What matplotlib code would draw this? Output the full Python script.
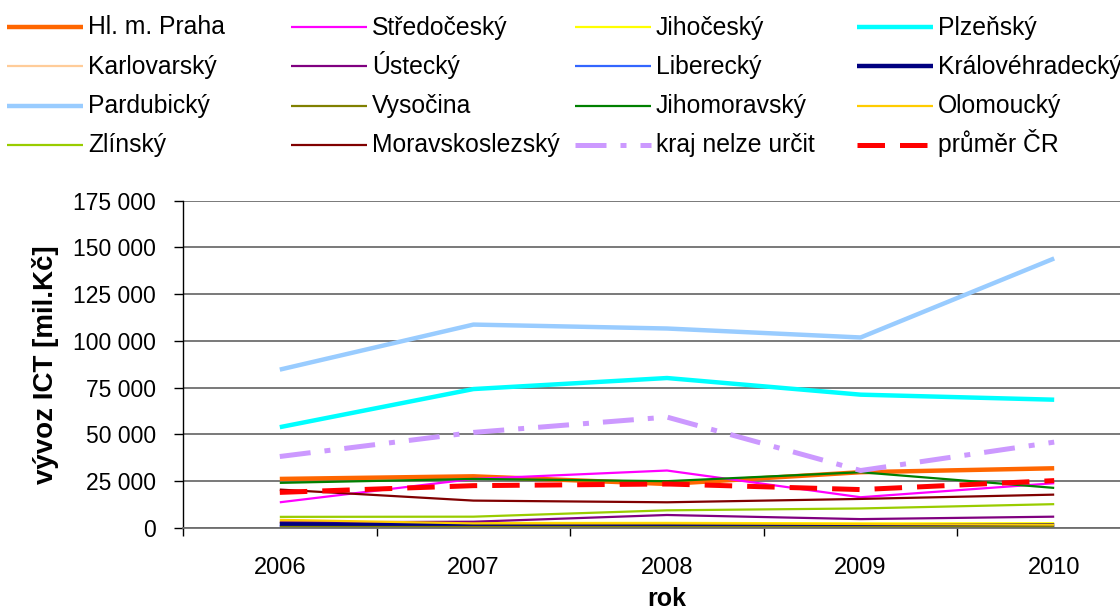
import matplotlib
matplotlib.use("Agg")
import matplotlib.pyplot as plt
from matplotlib.lines import Line2D
from matplotlib.ticker import FuncFormatter, FixedLocator

plt.rcParams['font.family'] = ['Liberation Sans', 'DejaVu Sans']

years = ['2006', '2007', '2008', '2009', '2010']

# ICT export by region, mil. Kč
praha = [26100, 27500, 23400, 29700, 31800]
stredocesky = [13600, 26100, 30600, 16300, 23800]
jihocesky = [3000, 2500, 2600, 2300, 2400]
plzensky = [53800, 74200, 80100, 71200, 68500]
karlovarsky = [600, 500, 500, 400, 400]
ustecky = [2800, 3200, 6800, 4600, 5900]
liberecky = [1000, 900, 800, 900, 1000]
kralovehradecky = [1800, 1300, 1100, 1200, 1300]
pardubicky = [84600, 108700, 106600, 101800, 144100]
vysocina = [300, 300, 300, 300, 300]
jihomoravsky = [24000, 26100, 24900, 29700, 21300]
olomoucky = [4200, 2300, 2300, 2000, 1600]
zlinsky = [5800, 5900, 9300, 10300, 12600]
moravskoslezsky = [20400, 14500, 13600, 15400, 17700]
nelze_urcit = [38100, 51000, 59200, 30600, 45800]
prumer_cr = [18900, 22500, 23400, 20400, 25200]

series = [
    ('Hl. m. Praha', praha, '#FF6600', 3.2, '-'),
    ('Středočeský', stredocesky, '#FF00FF', 1.6, '-'),
    ('Jihočeský', jihocesky, '#FFFF00', 1.6, '-'),
    ('Plzeňský', plzensky, '#00FFFF', 3.2, '-'),
    ('Karlovarský', karlovarsky, '#FFCC99', 1.6, '-'),
    ('Ústecký', ustecky, '#800080', 1.6, '-'),
    ('Liberecký', liberecky, '#3366FF', 1.6, '-'),
    ('Královéhradecký', kralovehradecky, '#000080', 3.2, '-'),
    ('Pardubický', pardubicky, '#99CCFF', 3.2, '-'),
    ('Vysočina', vysocina, '#808000', 1.6, '-'),
    ('Jihomoravský', jihomoravsky, '#008000', 1.6, '-'),
    ('Olomoucký', olomoucky, '#FFCC00', 1.6, '-'),
    ('Zlínský', zlinsky, '#99CC00', 1.6, '-'),
    ('Moravskoslezský', moravskoslezsky, '#800000', 1.6, '-'),
    ('kraj nelze určit', nelze_urcit, '#CC99FF', 3.6, (0, (6.2, 2.8, 1.2, 2.8))),
    ('průměr ČR', prumer_cr, '#FF0000', 3.6, (0, (5.5, 3.0))),
]

W, H = 1120, 610
fig = plt.figure(figsize=(W / 100, H / 100), dpi=100)
ax = fig.add_axes([183 / W, 1 - 527.7 / H, (1151 - 183) / W, (527.7 - 200.7) / H])

x = list(range(len(years)))
for name, vals, color, lw, ls in series:
    ax.plot(x, vals, color=color, lw=lw, linestyle=ls, label=name,
            solid_capstyle='butt', dash_capstyle='butt')

ax.set_xlim(-0.5, len(years) - 0.5)
ax.set_ylim(0, 175000)
ax.set_yticks(range(0, 175001, 25000))
ax.yaxis.set_major_formatter(FuncFormatter(lambda v, p: f'{int(v):,}'.replace(',', ' ')))
ax.grid(axis='y', color='#6e6e6e', lw=1.3)
ax.set_axisbelow(True)

ax.set_xticks(x)
ax.set_xticklabels(years)
ax.xaxis.set_minor_locator(FixedLocator([i - 0.5 for i in range(len(years) + 1)]))
ax.tick_params(axis='x', which='major', length=0, pad=21, labelsize=17)
ax.tick_params(axis='x', which='minor', length=6, width=1, color='black', direction='out')
ax.tick_params(axis='y', length=6.5, width=1, pad=13, labelsize=16.5, direction='out')

for s in ('top', 'right'):
    ax.spines[s].set_visible(False)
ax.spines['left'].set_color('black')
ax.spines['left'].set_linewidth(1)
ax.spines['bottom'].set_color('#6e6e6e')
ax.spines['bottom'].set_linewidth(1.3)

ax.set_ylabel('vývoz ICT [mil.Kč]', fontsize=20, fontweight='bold', labelpad=10)
ax.set_xlabel('rok', fontsize=18, fontweight='bold', labelpad=6)

# Legend: four columns filled row by row, rows on a fixed pitch
col_x = [7, 291, 575, 857]
handle_len = 76
text_gap = 5
row_base = 34.5
row_pitch = 39.3
for i, (name, vals, color, lw, ls) in enumerate(series):
    r, c = divmod(i, 4)
    yb = row_base + r * row_pitch
    yl = yb - 7.5
    x0 = col_x[c]
    fig.add_artist(Line2D([x0 / W, (x0 + handle_len) / W], [1 - yl / H, 1 - yl / H],
                          transform=fig.transFigure, color=color, lw=lw, linestyle=ls,
                          solid_capstyle='butt', dash_capstyle='butt'))
    fig.text((x0 + handle_len + text_gap) / W, 1 - yb / H, name, fontsize=17.8,
             ha='left', va='baseline')

fig.savefig('out.png', dpi=100)
